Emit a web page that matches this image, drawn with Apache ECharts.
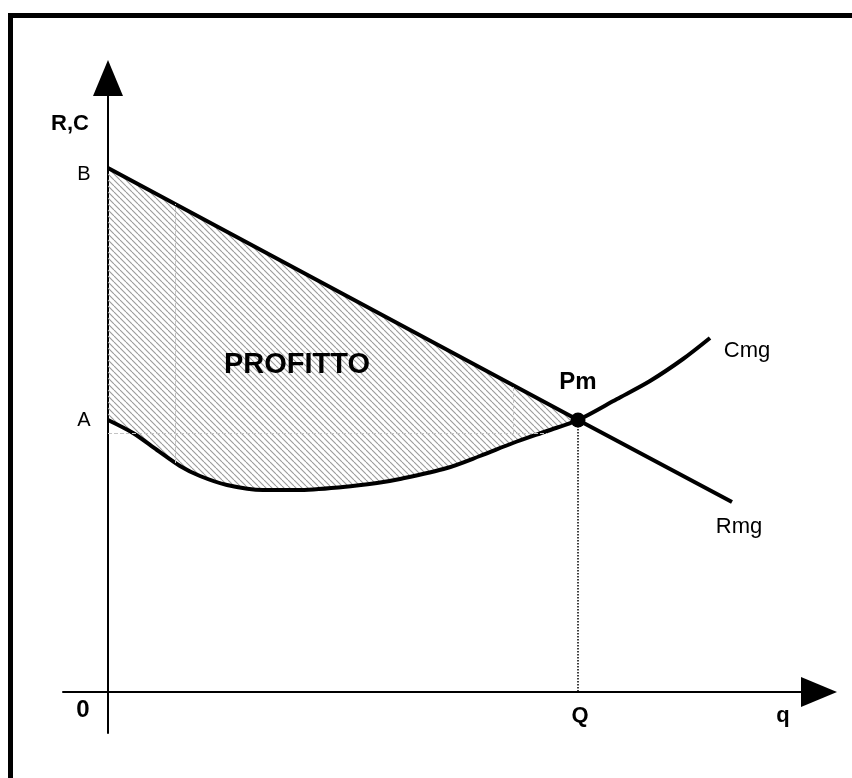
<!DOCTYPE html>
<html lang="it">
<head>
  <meta charset="UTF-8">
  <title>Profitto</title>
  <script src="https://cdn.jsdelivr.net/npm/echarts@6/dist/echarts.min.js"></script>
  <style>
    html, body { margin: 0; padding: 0; background: #fff; }
    #main { width: 852px; height: 778px; }
  </style>
</head>
<body>
<div id="main"></div>
<script>
  // quantita' (q) e ricavi/costi (R,C)
  var rmgQ = [0, 470, 624];
  var rmgP = [524, 272, 190];
  var cmgQ = [0, 25, 49, 72, 92, 119, 155, 189, 235, 269, 292, 339, 372, 405, 439, 470, 509, 542, 575, 602];
  var cmgP = [272, 259, 242, 226, 216, 207, 202, 202, 205, 209, 213, 224, 236, 249, 261, 272, 293, 311, 333, 354];
  var pmQ = 470;
  var pmP = 272;
  var yTickNames = ['B', 'A'];
  var yTickValues = [524, 272];
  var xTickNames = ['0', 'Q', 'q'];
  var xTickValues = [0, 470, 675];

  var font = '"Liberation Sans", Arial, sans-serif';

  function pairs(qs, ps) {
    return qs.map(function (q, i) { return [q, ps[i]]; });
  }

  // trama a righe diagonali per l'area del profitto
  function hatch() {
    var c = document.createElement('canvas');
    c.width = 6; c.height = 6;
    var g = c.getContext('2d');
    g.strokeStyle = '#9a9a9a';
    g.lineWidth = 1.1;
    for (var k = -6; k <= 6; k += 6) {
      g.beginPath(); g.moveTo(k, 0); g.lineTo(k + 6, 6); g.stroke();
    }
    return c;
  }

  // scritte: posizione in unita' del grafico + spostamento in pixel
  var notes = [
    { text: 'R,C', q: -38, p: 568, dx: 0, dy: 0, size: 22, bold: true },
    { text: 'Pm', q: pmQ, p: pmP, dx: 0, dy: -38, size: 24, bold: true },
    { text: 'Cmg', q: 639, p: 341, dx: 0, dy: 0, size: 22, bold: false },
    { text: 'Rmg', q: 631, p: 165, dx: 0, dy: 0, size: 22, bold: false },
    { text: 'PROFITTO', q: 189, p: 327, dx: 0, dy: 0, size: 29, bold: true }
  ];
  yTickNames.forEach(function (t, i) {
    notes.push({ text: t, q: 0, p: yTickValues[i], dx: -24, dy: i === 0 ? 6 : 0, size: 20, bold: false });
  });
  xTickNames.forEach(function (t, i) {
    notes.push({ text: t, q: xTickValues[i], p: 0, dx: i === 0 ? -25 : (i === 1 ? 2 : 0), dy: i === 0 ? 18 : 24, size: i === 0 ? 24 : 22, bold: true });
  });

  var chart = echarts.init(document.getElementById('main'));
  var pattern = { image: hatch(), repeat: 'repeat' };

  chart.setOption({
    animation: false,
    backgroundColor: '#fff',
    grid: { left: 63, right: 33, top: 78, bottom: 45 },
    xAxis: {
      type: 'value', min: -45, max: 711,
      splitLine: { show: false },
      axisTick: { show: false },
      axisLabel: { show: false },
      axisLine: { onZero: true, symbol: ['none', 'triangle'], symbolSize: [30, 36], lineStyle: { color: '#000', width: 2 } }
    },
    yAxis: {
      type: 'value', min: -41, max: 614,
      splitLine: { show: false },
      axisTick: { show: false },
      axisLabel: { show: false },
      axisLine: { onZero: true, symbol: ['none', 'triangle'], symbolSize: [30, 36], lineStyle: { color: '#000', width: 2 } }
    },
    graphic: [{
      type: 'rect', silent: true,
      shape: { x: 10.5, y: 15.5, width: 1000, height: 1000 },
      style: { fill: 'none', stroke: '#000', lineWidth: 5 }
    }],
    series: [
      {
        // area tra Rmg e Cmg fino a Pm
        type: 'custom', z: 1, silent: true,
        data: [[0, 0]],
        renderItem: function (params, api) {
          var top = pairs(rmgQ, rmgP).filter(function (d) { return d[0] <= pmQ; });
          var bottom = pairs(cmgQ, cmgP).filter(function (d) { return d[0] <= pmQ; }).reverse();
          var pts = top.concat(bottom).map(function (d) { return api.coord(d); });
          return { type: 'polygon', shape: { points: pts }, style: { fill: pattern, stroke: 'none' } };
        }
      },
      {
        type: 'line', z: 2, silent: true, data: [],
        markLine: {
          silent: true, symbol: 'none', label: { show: false },
          lineStyle: { color: '#c4c4c4', type: 'dashed', width: 1 },
          data: [
            [{ coord: [67, 229] }, { coord: [67, 488] }],
            [{ coord: [0, 259] }, { coord: [440, 259] }],
            [{ coord: [405, 259] }, { coord: [405, 307] }]
          ]
        }
      },
      {
        type: 'line', z: 2, silent: true, data: [],
        markLine: {
          silent: true, symbol: 'none', label: { show: false },
          lineStyle: { color: '#000', type: 'dotted', width: 1.5 },
          data: [[{ coord: [pmQ, pmP] }, { coord: [pmQ, 0] }]]
        }
      },
      {
        name: 'Rmg', type: 'line', z: 3, symbol: 'none',
        data: pairs(rmgQ, rmgP),
        lineStyle: { color: '#000', width: 4 }
      },
      {
        name: 'Cmg', type: 'line', z: 3, symbol: 'none', smooth: 0.3,
        data: pairs(cmgQ, cmgP),
        lineStyle: { color: '#000', width: 4 }
      },
      {
        name: 'Pm', type: 'scatter', z: 4, symbolSize: 15,
        data: [[pmQ, pmP]],
        itemStyle: { color: '#000', opacity: 1 }
      },
      {
        type: 'scatter', z: 5, symbolSize: 0, silent: true,
        itemStyle: { opacity: 1 },
        data: notes.map(function (n) {
          return {
            value: [n.q, n.p],
            label: {
              show: true, position: 'inside', formatter: n.text, offset: [n.dx, n.dy],
              color: '#000', opacity: 1, fontFamily: font, fontSize: n.size,
              fontWeight: n.bold ? 'bold' : 'normal'
            }
          };
        })
      }
    ]
  });
</script>
</body>
</html>
